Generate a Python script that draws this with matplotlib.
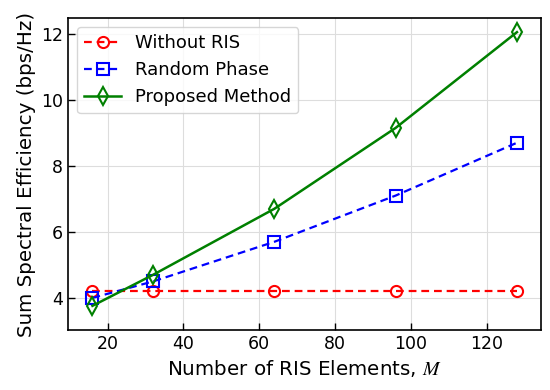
import matplotlib
matplotlib.use("Agg")
import matplotlib.pyplot as plt

# RIS 元素数量 vs 和频谱效率
M = [16, 32, 64, 96, 128]
without_ris = [4.2, 4.2, 4.2, 4.2, 4.2]
random_phase = [4.0, 4.5, 5.7, 7.1, 8.7]
proposed = [3.76, 4.7, 6.7, 9.15, 12.05]

plt.rcParams['mathtext.fontset'] = 'stix'

fig, ax = plt.subplots(figsize=(5.5, 3.9), dpi=100)
ax.plot(M, without_ris, color='red', linestyle=(0, (3.5, 2.2)), marker='o', fillstyle='none',
        markersize=8, markeredgewidth=1.5, linewidth=1.6, label="Without RIS")
ax.plot(M, random_phase, color='blue', linestyle=(0, (3.5, 2.2)), marker='s', fillstyle='none',
        markersize=8, markeredgewidth=1.5, linewidth=1.6, label="Random Phase")
ax.plot(M, proposed, color='green', linestyle='-', marker='d', fillstyle='none',
        markersize=9, markeredgewidth=1.5, linewidth=1.8, label="Proposed Method")

ax.set_xlabel("Number of RIS Elements, $M$", fontsize=14.3)
ax.set_ylabel("Sum Spectral Efficiency (bps/Hz)", fontsize=14.3)
ax.set_xticks([20, 40, 60, 80, 100, 120])
ax.set_yticks([4, 6, 8, 10, 12])
ax.set_xlim(9.6, 134.4)
ax.set_ylim(3.03, 12.48)
ax.tick_params(direction='in', labelsize=12.5, length=5, width=1)
for s in ax.spines.values():
    s.set_linewidth(1.2)
ax.grid(True, color='#dddddd', linewidth=0.8)
ax.legend(loc='upper left', fontsize=13)
fig.subplots_adjust(left=0.124, right=0.984, top=0.954, bottom=0.154)
plt.savefig("out.png")
plt.close()
